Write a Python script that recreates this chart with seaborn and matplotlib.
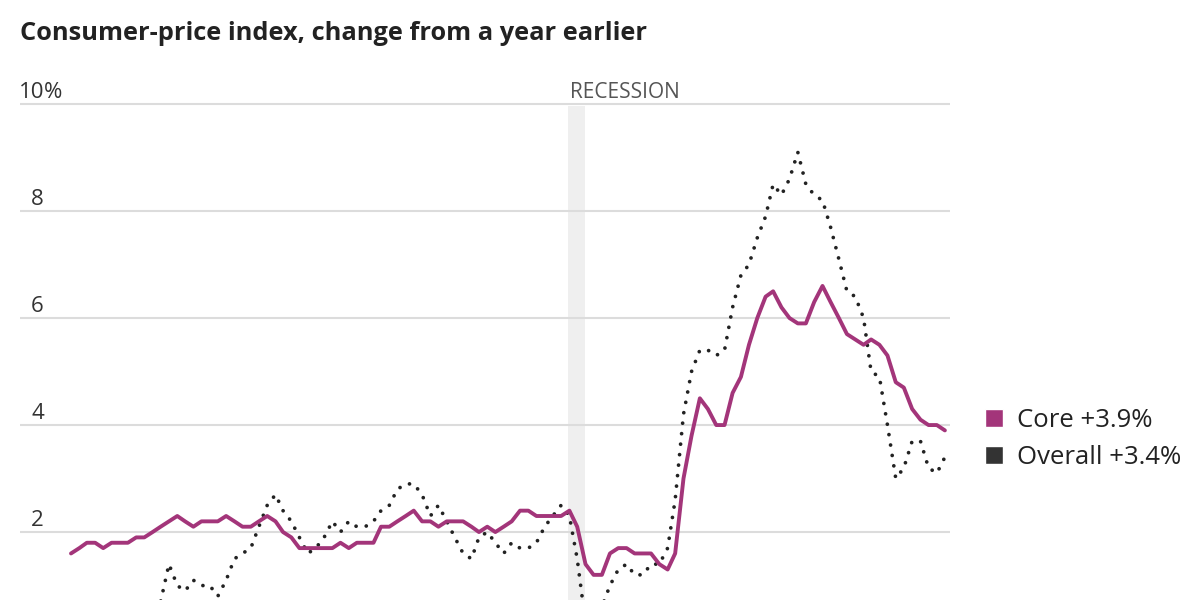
import pandas as pd
import seaborn as sns
import matplotlib.pyplot as plt
import matplotlib.transforms as mtransforms
from matplotlib.patches import Patch

# monthly CPI, Jan 2015 - Dec 2023, % change from a year earlier
MONTHS = pd.date_range("2015-01-01", "2023-12-01", freq="MS")

CORE = [
    1.6, 1.7, 1.8, 1.8, 1.7, 1.8, 1.8, 1.8, 1.9, 1.9, 2.0, 2.1,  # 2015
    2.2, 2.3, 2.2, 2.1, 2.2, 2.2, 2.2, 2.3, 2.2, 2.1, 2.1, 2.2,  # 2016
    2.3, 2.2, 2.0, 1.9, 1.7, 1.7, 1.7, 1.7, 1.7, 1.8, 1.7, 1.8,  # 2017
    1.8, 1.8, 2.1, 2.1, 2.2, 2.3, 2.4, 2.2, 2.2, 2.1, 2.2, 2.2,  # 2018
    2.2, 2.1, 2.0, 2.1, 2.0, 2.1, 2.2, 2.4, 2.4, 2.3, 2.3, 2.3,  # 2019
    2.3, 2.4, 2.1, 1.4, 1.2, 1.2, 1.6, 1.7, 1.7, 1.6, 1.6, 1.6,  # 2020
    1.4, 1.3, 1.6, 3.0, 3.8, 4.5, 4.3, 4.0, 4.0, 4.6, 4.9, 5.5,  # 2021
    6.0, 6.4, 6.5, 6.2, 6.0, 5.9, 5.9, 6.3, 6.6, 6.3, 6.0, 5.7,  # 2022
    5.6, 5.5, 5.6, 5.5, 5.3, 4.8, 4.7, 4.3, 4.1, 4.0, 4.0, 3.9,  # 2023
]

OVERALL = [
    -0.1, 0.0, -0.1, -0.2, 0.0, 0.1, 0.2, 0.2, 0.0, 0.2, 0.5, 0.7,  # 2015
    1.4, 1.0, 0.9, 1.1, 1.0, 1.0, 0.8, 1.1, 1.5, 1.6, 1.7, 2.1,  # 2016
    2.5, 2.7, 2.4, 2.2, 1.9, 1.6, 1.7, 1.9, 2.2, 2.0, 2.2, 2.1,  # 2017
    2.1, 2.2, 2.4, 2.5, 2.8, 2.9, 2.9, 2.7, 2.3, 2.5, 2.2, 1.9,  # 2018
    1.6, 1.5, 1.9, 2.0, 1.8, 1.6, 1.8, 1.7, 1.7, 1.8, 2.1, 2.3,  # 2019
    2.5, 2.3, 1.5, 0.3, 0.1, 0.6, 1.0, 1.3, 1.4, 1.2, 1.2, 1.4,  # 2020
    1.4, 1.7, 2.6, 4.2, 5.0, 5.4, 5.4, 5.3, 5.4, 6.2, 6.8, 7.0,  # 2021
    7.5, 7.9, 8.5, 8.3, 8.6, 9.1, 8.5, 8.3, 8.2, 7.7, 7.1, 6.5,  # 2022
    6.4, 6.0, 5.0, 4.9, 4.0, 3.0, 3.2, 3.7, 3.7, 3.2, 3.1, 3.4,  # 2023
]

Y_TICKS = [2, 4, 6, 8, 10]
RECESSION = ("2020-01-27", "2020-03-30")
LEGEND_LABELS = ["Core +3.9%", "Overall +3.4%"]

CORE_COLOR = "#a3357a"
OVERALL_COLOR = "#222222"

df = pd.DataFrame({"month": MONTHS, "core": CORE, "overall": OVERALL})

sns.set_style("white")
plt.rcParams["font.family"] = ["Open Sans", "DejaVu Sans"]

fig = plt.figure(figsize=(12, 6), dpi=100)
ax = fig.add_axes([20 / 1200, 0, 930 / 1200, 512 / 600])

ax.axvspan(pd.Timestamp(RECESSION[0]), pd.Timestamp(RECESSION[1]),
           color="#efefef", lw=0, zorder=0, ymax=(9.97 - 0.73) / (10.3 - 0.73))

for t in Y_TICKS:
    ax.axhline(t, color="#dcdcdc", lw=1.5, zorder=1)

sns.lineplot(data=df, x="month", y="overall", ax=ax, color=OVERALL_COLOR, lw=2.7,
             linestyle=(0, (0.01, 2.8)), dash_capstyle="round", zorder=3)
sns.lineplot(data=df, x="month", y="core", ax=ax, color=CORE_COLOR, lw=2.8, zorder=4)

ax.set_xlim(pd.Timestamp("2014-06-25"), pd.Timestamp("2023-12-20"))
ax.set_ylim(0.73, 10.3)
ax.set_xlabel("")
ax.set_ylabel("")
ax.set_xticks([])
ax.set_yticks([])
for s in ax.spines.values():
    s.set_visible(False)

# y labels sit above the gridlines, numbers right-aligned, % hanging
trans = mtransforms.blended_transform_factory(fig.transFigure, ax.transData)
for t in Y_TICKS:
    ax.text(44 / 1200, t + 0.11, str(t), ha="right", va="baseline",
            fontsize=16, color="#333333", transform=trans)
ax.text(44 / 1200, 10.11, "%", ha="left", va="baseline",
        fontsize=16, color="#333333", transform=trans)

ax.text(pd.Timestamp("2020-02-05"), 10.11, "RECESSION", ha="left", va="baseline",
        fontsize=15, color="#555555")

fig.text(20 / 1200, 1 - 40 / 600, "Consumer-price index, change from a year earlier",
         ha="left", va="baseline", fontsize=18.3, fontweight="bold", color="#222222")

handles = [Patch(facecolor=CORE_COLOR), Patch(facecolor="#333333")]
fig.legend(handles, LEGEND_LABELS, loc="center left", bbox_to_anchor=(975 / 1200, 1 - 439 / 600),
           frameon=False, fontsize=18.5, handlelength=0.7, handleheight=0.7,
           handletextpad=0.55, labelspacing=0.5, borderaxespad=0, labelcolor="#222222")

plt.savefig("out.png", dpi=100)
plt.close()
